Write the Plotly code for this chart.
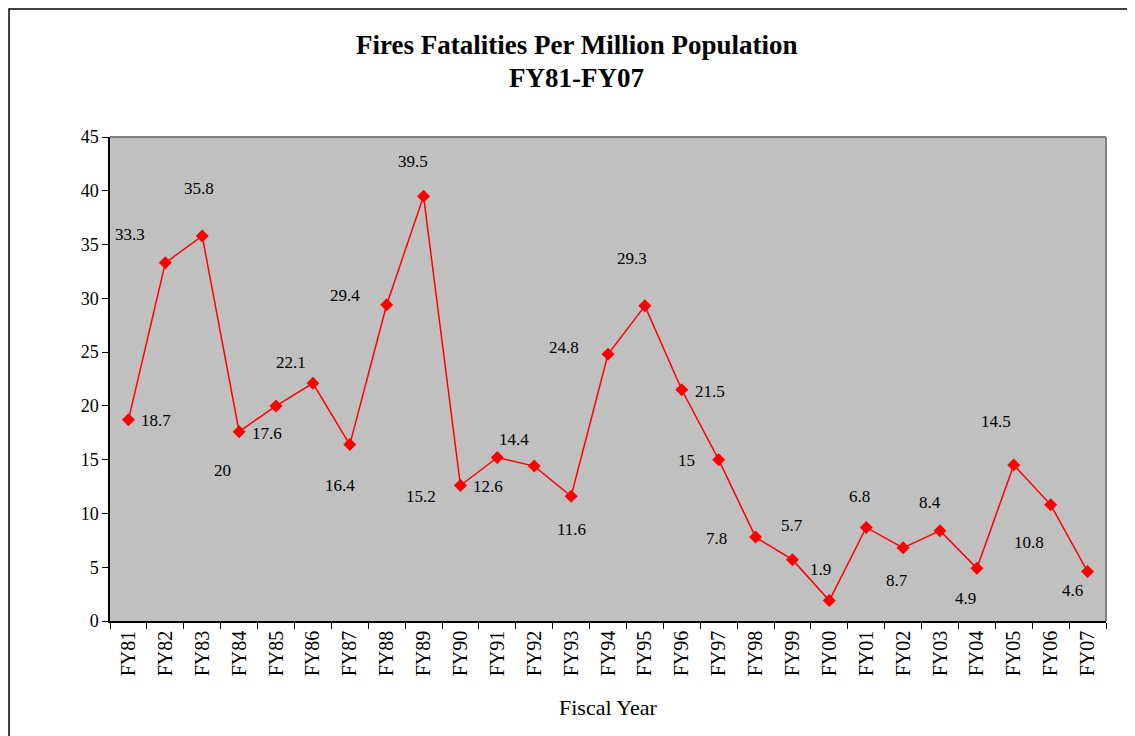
import plotly.graph_objects as go

# data
fiscal_years = ["FY81", "FY82", "FY83", "FY84", "FY85", "FY86", "FY87", "FY88", "FY89",
                "FY90", "FY91", "FY92", "FY93", "FY94", "FY95", "FY96", "FY97", "FY98",
                "FY99", "FY00", "FY01", "FY02", "FY03", "FY04", "FY05", "FY06", "FY07"]
fatalities = [18.7, 33.3, 35.8, 17.6, 20, 22.1, 16.4, 29.4, 39.5,
              12.6, 15.2, 14.4, 11.6, 24.8, 29.3, 21.5, 15, 7.8,
              5.7, 1.9, 8.7, 6.8, 8.4, 4.9, 14.5, 10.8, 4.6]

# pixel offsets of each data label from its point (Excel had them dragged around)
label_dx = [28, -35, -3, 28, -54, -22, -10, -42, -11,
            28, -76, -20, 0, -44, -13, 28, -32, -39,
            0, -9, 31, -44, -10, -11, -18, -22, -15]
label_dy = [1, -28, -47, 2, 65, -21, 41, -9, -35,
            1, 39, -27, 33, -7, -47, 2, 1, 1,
            -34, -31, 53, -51, -28, 30, -44, 38, 19]

FONT = "Liberation Serif"

fig = go.Figure()
fig.add_trace(go.Scatter(
    x=fiscal_years, y=fatalities, mode="lines+markers",
    line=dict(color="#FF0000", width=1.5),
    marker=dict(symbol="diamond", size=10, color="#FF0000"),
    showlegend=False, cliponaxis=False,
))

for fy, v, dx, dy in zip(fiscal_years, fatalities, label_dx, label_dy):
    fig.add_annotation(x=fy, y=v, text=f"{v:g}", showarrow=False,
                       xshift=dx, yshift=-dy,
                       font=dict(family=FONT, size=17, color="black"))

# title, two lines
fig.add_annotation(xref="paper", yref="paper", x=0.468, y=1.190, yanchor="middle",
                   showarrow=False, text="<b>Fires Fatalities Per Million Population</b>",
                   font=dict(family=FONT, size=27, color="black"))
fig.add_annotation(xref="paper", yref="paper", x=0.468, y=1.1219, yanchor="middle",
                   showarrow=False, text="<b>FY81-FY07</b>",
                   font=dict(family=FONT, size=27, color="black"))
# x axis title
fig.add_annotation(xref="paper", yref="paper", x=0.5, y=-0.1777, yanchor="middle",
                   showarrow=False, text="Fiscal Year",
                   font=dict(family=FONT, size=22, color="black"))

# grey top/right edge of the plot area
fig.add_shape(type="line", xref="paper", yref="paper", x0=0, x1=1, y0=1, y1=1,
              line=dict(color="#808080", width=2))
fig.add_shape(type="line", xref="paper", yref="paper", x0=1, x1=1, y0=0, y1=1,
              line=dict(color="#808080", width=2))
# outer chart border
fig.add_shape(type="rect", xref="paper", yref="paper", x0=-0.1014, x1=1.1, y0=-0.4, y1=1.2645,
              line=dict(color="black", width=1.5))

fig.update_layout(
    width=1135, height=736,
    margin=dict(l=102, r=37, t=129, b=123),
    paper_bgcolor="white", plot_bgcolor="#C0C0C0",
    font=dict(family=FONT, color="black"),
    xaxis=dict(range=[-0.5, 26.5], tickson="boundaries", ticks="outside", ticklen=6,
               tickcolor="black", showline=True, linecolor="black", linewidth=1.5,
               tickangle=-90, tickfont=dict(family=FONT, size=20, color="black"),
               showgrid=False),
    yaxis=dict(range=[0, 45], dtick=5, ticks="outside", ticklen=6, tickcolor="black",
               showline=True, linecolor="black", linewidth=1.5, showgrid=False,
               zeroline=False, tickfont=dict(family=FONT, size=18, color="black")),
)

fig.write_html("out.html")
